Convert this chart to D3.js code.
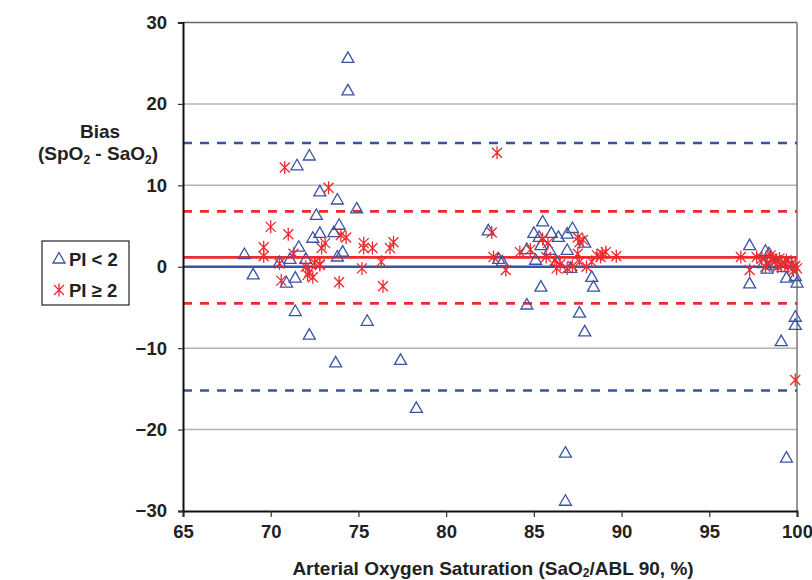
<!DOCTYPE html>
<html>
<head>
<meta charset="utf-8">
<script src="https://cdn.jsdelivr.net/npm/d3@7"></script>
<style>
  body { margin: 0; background: #fff; }
  svg { font-family: "Liberation Sans", Arial, sans-serif; font-weight: bold; }
</style>
</head>
<body>
<svg width="812" height="580"></svg>
<script>
// PI < 2 (triangles)
const lowSat = [74.4, 74.4, 72.2, 71.5, 72.8, 73.8, 74.9, 72.6, 73.9, 73.6, 72.8, 72.4, 71.6, 74.1, 73.8, 68.5, 71.1, 72.0, 70.5, 69.0, 70.9, 71.4, 71.4, 72.2, 75.5, 73.7, 77.4, 78.3,
  82.4, 85.5, 85.0, 86.0, 86.4, 87.2, 86.9, 85.3, 85.4, 84.6, 85.9, 86.9, 87.9, 83.0, 83.2, 85.1, 86.3, 87.1, 88.3, 88.4, 85.4, 84.6, 87.6, 87.9, 86.8, 86.8,
  97.3, 97.3, 98.2, 98.4, 98.1, 98.3, 98.6, 99.6, 99.4, 99.9, 100, 99.9, 99.9, 99.1, 99.4, 98.8, 99.2];
const lowBias = [25.6, 21.6, 13.6, 12.4, 9.2, 8.2, 7.1, 6.3, 5.1, 4.2, 4.1, 3.5, 2.4, 1.8, 1.2, 1.5, 0.9, 0.9, 0.5, -1.0, -2.0, -1.4, -5.5, -8.4, -6.7, -11.8, -11.5, -17.4,
  4.4, 5.5, 4.1, 4.1, 3.6, 4.7, 4.0, 3.6, 2.6, 2.1, 2.0, 2.0, 2.9, 0.9, 0.6, 0.8, 0.6, -0.2, -1.3, -2.5, -2.5, -4.7, -5.7, -8.0, -22.9, -28.8,
  2.6, -2.1, 1.9, 1.6, 0.4, -0.3, 0.2, 0.4, -1.4, -1.2, -2.0, -6.2, -7.2, -9.2, -23.5, 0.5, -0.1];

// PI >= 2 (stars)
const highSat = [70.8, 73.3, 70.0, 71.0, 69.6, 69.6, 70.5, 71.3, 72.9, 73.1, 72.0, 72.2, 72.8, 72.4, 72.1, 70.6, 73.9, 74.0, 74.3, 75.3, 75.3, 75.8, 77.0, 76.8, 76.3, 75.2, 76.4, 72.8, 72.5,
  82.9, 82.6, 82.7, 83.4, 84.2, 84.8, 85.5, 85.8, 85.7, 86.2, 86.3, 86.9, 87.5, 87.6, 87.8, 87.5, 87.6, 88.0, 88.3, 88.6, 88.9, 89.1, 89.7, 86.5, 87.2, 88.8,
  96.8, 97.3, 97.7, 98.5, 98.8, 99.0, 99.3, 98.3, 98.0, 98.9, 99.5, 99.9, 100, 99.7, 99.9, 98.6, 99.1, 99.8, 98.2, 99.4];
const highBias = [12.2, 9.7, 4.9, 4.0, 2.4, 1.3, 0.4, 1.6, 2.3, 2.9, 0.0, -0.6, 0.3, -1.3, -1.0, -1.7, -1.9, 3.9, 3.6, 2.9, 2.3, 2.3, 3.0, 2.3, 0.6, -0.2, -2.4, 0.2, 0.5,
  14.0, 4.2, 1.2, -0.4, 1.8, 2.1, 3.4, 2.9, 1.2, 0.8, -0.2, -0.2, 3.6, 3.0, 3.3, 1.6, 0.6, 0.0, 0.6, 1.4, 1.6, 1.8, 1.3, 0.3, 0.1, 1.2,
  1.2, -0.4, 1.2, 1.4, 0.8, 1.0, 0.5, 0.5, 1.0, 0.0, 0.0, 0.1, -0.2, 0.4, -13.9, 1.0, 0.3, -0.5, 0.0, 0.8];

// mean bias and limits of agreement
const lowLines = [0, 15.2, -15.2];
const highLines = [1.15, 6.8, -4.5];

const xTicks = [65, 70, 75, 80, 85, 90, 95, 100];
const yTicks = [30, 20, 10, 0, -10, -20, -30];
const gridVals = [30, 20, 10, -10, -20];

const blue = "#3953a4", red = "#ee2a2e";
const svg = d3.select("svg");
const x = d3.scaleLinear().domain([65, 100]).range([183, 797]);
const y = d3.scaleLinear().domain([-30, 30]).range([511, 22.5]);

// gridlines
svg.append("g").selectAll("line").data(gridVals).enter().append("line")
  .attr("x1", x(65)).attr("x2", x(100))
  .attr("y1", d => y(d)).attr("y2", d => y(d))
  .attr("stroke", d => d == 30 ? "#666" : "#b4b4b4").attr("stroke-width", 1.5);
svg.append("line").attr("x1", x(100)).attr("x2", x(100)).attr("y1", y(30)).attr("y2", y(-30))
  .attr("stroke", "#777").attr("stroke-width", 1.5);

// reference lines
function refLines(vals, color) {
  svg.append("g").selectAll("line").data(vals).enter().append("line")
    .attr("x1", x(65)).attr("x2", x(100))
    .attr("y1", d => y(d)).attr("y2", d => y(d))
    .attr("stroke", color).attr("stroke-width", 2.6)
    .attr("stroke-dasharray", (d, i) => i == 0 ? null : "9,8");
}
refLines(lowLines, blue);
refLines(highLines, red);

// axes
const yAxis = svg.append("g").attr("transform", `translate(${x(65)},0)`)
  .call(d3.axisLeft(y).tickValues(yTicks).tickSize(5).tickPadding(11));
const xAxis = svg.append("g").attr("transform", `translate(0,${y(-30)})`)
  .call(d3.axisBottom(x).tickValues(xTicks).tickSize(6).tickPadding(8));
[xAxis, yAxis].forEach(a => {
  a.select(".domain").attr("stroke", "#111").attr("stroke-width", 2);
  a.selectAll(".tick line").attr("stroke", "#333").attr("stroke-width", 1.2);
  a.selectAll("text").attr("font-size", 18.5).attr("font-weight", "bold")
    .attr("font-family", "Liberation Sans, Arial, sans-serif").attr("fill", "#222");
});

// markers
const tri = "M0,-6.5L6,4L-6,4Z";
const star = "M-5,-5L5,5M-5,5L5,-5M0,-6.5L0,6.5";

svg.append("g").selectAll("path").data(lowSat).enter().append("path")
  .attr("d", tri).attr("transform", (d, i) => `translate(${x(d)},${y(lowBias[i])})`)
  .attr("fill", "none").attr("stroke", blue).attr("stroke-width", 1.3);
svg.append("g").selectAll("path").data(highSat).enter().append("path")
  .attr("d", star).attr("transform", (d, i) => `translate(${x(d)},${y(highBias[i])})`)
  .attr("fill", "none").attr("stroke", red).attr("stroke-width", 1.3);

// y title
const yt = svg.append("text").attr("text-anchor", "middle").attr("font-size", 19).attr("fill", "#222");
yt.append("tspan").attr("x", 100).attr("y", 138).text("Bias");
const yt2 = svg.append("text").attr("x", 98).attr("y", 160).attr("text-anchor", "middle").attr("font-size", 19).attr("fill", "#222");
yt2.append("tspan").text("(SpO");
yt2.append("tspan").attr("font-size", 12).attr("dy", 4).text("2");
yt2.append("tspan").attr("dy", -4).text(" - SaO");
yt2.append("tspan").attr("font-size", 12).attr("dy", 4).text("2");
yt2.append("tspan").attr("dy", -4).text(")");

// x title
const xt = svg.append("text").attr("x", 493).attr("y", 575).attr("text-anchor", "middle").attr("font-size", 19).attr("fill", "#222");
xt.append("tspan").text("Arterial Oxygen Saturation (SaO");
xt.append("tspan").attr("font-size", 12).attr("dy", 2).text("2");
xt.append("tspan").attr("dy", -2).text("/ABL 90, %)");

// legend
const lg = svg.append("g");
lg.append("rect").attr("x", 42).attr("y", 241).attr("width", 87).attr("height", 64)
  .attr("fill", "#fff").attr("stroke", "#222").attr("stroke-width", 1.2);
lg.append("path").attr("d", tri).attr("transform", "translate(59,259)")
  .attr("fill", "none").attr("stroke", blue).attr("stroke-width", 1.3);
lg.append("path").attr("d", star).attr("transform", "translate(59,290)")
  .attr("fill", "none").attr("stroke", red).attr("stroke-width", 1.3);
lg.append("text").attr("x", 69).attr("y", 266).attr("font-size", 18.5).attr("fill", "#222").text("PI < 2");
lg.append("text").attr("x", 69).attr("y", 297).attr("font-size", 18.5).attr("fill", "#222").text("PI ≥ 2");
</script>
</body>
</html>
